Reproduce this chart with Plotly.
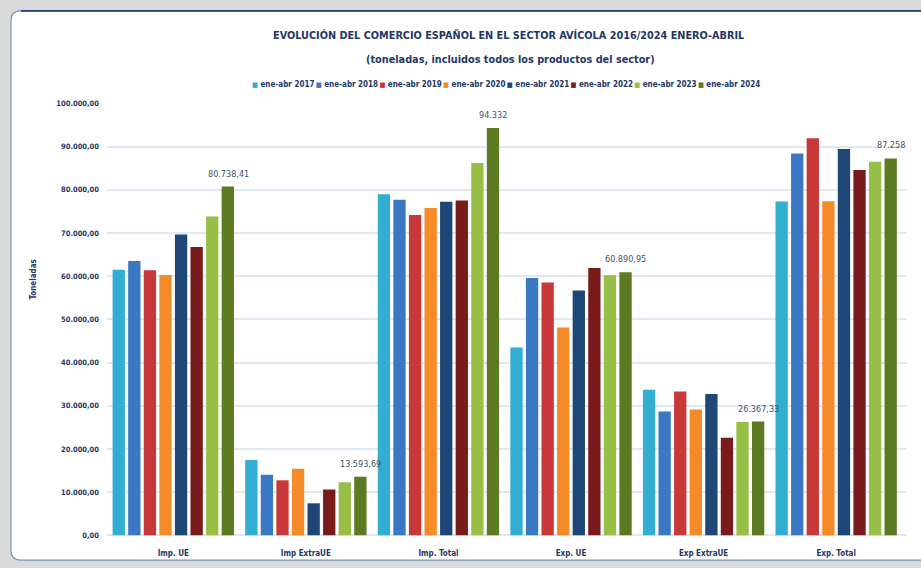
import plotly.graph_objects as go

categories = ["Imp. UE", "Imp ExtraUE", "Imp. Total", "Exp. UE", "Exp ExtraUE", "Exp. Total"]
series_names = ["ene-abr 2017", "ene-abr 2018", "ene-abr 2019", "ene-abr 2020",
                "ene-abr 2021", "ene-abr 2022", "ene-abr 2023", "ene-abr 2024"]

v2017 = [61500, 17470, 78970, 43510, 33710, 77290]
v2018 = [63550, 14050, 77680, 59600, 28700, 88380]
v2019 = [61400, 12760, 74190, 58540, 33330, 91960]
v2020 = [60300, 15420, 75780, 48140, 29160, 77380]
v2021 = [69630, 7440, 77220, 56720, 32720, 89450]
v2022 = [66740, 10630, 77520, 61880, 22630, 84580]
v2023 = [73800, 12300, 86180, 60210, 26270, 86490]
v2024 = [80738.41, 13593.69, 94332, 60890.95, 26367.33, 87258]
labels2024 = ["80.738,41", "13.593,69", "94.332", "60.890,95", "26.367,33", "87.258"]

values = [v2017, v2018, v2019, v2020, v2021, v2022, v2023, v2024]
colors = ["#31aed2", "#3a78c4", "#c93838", "#f58a28", "#1e4676", "#7a1b1b", "#98bf45", "#5b7a22"]

W, H = 921, 568
FONT = "Liberation Sans Narrow, DejaVu Sans Condensed, Roboto, sans-serif"
NAVY = "#1f3864"

x0, x1 = 107, 907
y0, y1 = 540, 101
bargap = 0.06
bargroupgap = 0.21

fig = go.Figure()
for name, vals, col in zip(series_names, values, colors):
    fig.add_trace(go.Bar(
        name=name, x=categories, y=vals, legendgroup=name, showlegend=False,
        marker=dict(color=col, line=dict(width=0)),
        hovertemplate="%{x}<br>%{y:,.2f}<extra>" + name + "</extra>",
    ))
# legend entries: coloured square glyph + label, as in the original chart
for name, col in zip(series_names, colors):
    fig.add_trace(go.Scatter(
        x=[None], y=[None], mode="markers", legendgroup=name, showlegend=True,
        name=f"<span style='color:{col};font-size:7px'>■</span> {name}",
        marker=dict(size=1, opacity=0), hoverinfo="skip",
    ))
# empty spacer entry so the last legend label is not clipped
fig.add_trace(go.Scatter(x=[None], y=[None], mode="markers", name=" ", showlegend=True,
                         marker=dict(size=1, opacity=0), hoverinfo="skip"))

# data labels over last series
cat_px = (x1 - x0) / len(categories)
group_px = cat_px * (1 - bargap)
n = len(series_names)
offset = (-0.5 + (n - 0.5) / n) * group_px
annotations = []
for c, v, t in zip(categories, v2024, labels2024):
    annotations.append(dict(x=c, y=v, xref="x", yref="y", text=t, showarrow=False,
                            xshift=offset, yshift=13, yanchor="middle",
                            font=dict(family=FONT, size=9, color="#44546a")))

annotations.append(dict(x=508 / W, y=1 - 32 / H, xref="paper", yref="paper",
                        text="EVOLUCIÓN DEL COMERCIO ESPAÑOL EN EL SECTOR AVÍCOLA 2016/2024 ENERO-ABRIL",
                        showarrow=False, xanchor="center", yanchor="middle",
                        font=dict(family=FONT, size=10.8, color=NAVY, weight="bold")))
annotations.append(dict(x=510 / W, y=1 - 56 / H, xref="paper", yref="paper",
                        text="(toneladas, incluidos todos los productos del sector)",
                        showarrow=False, xanchor="center", yanchor="middle",
                        font=dict(family=FONT, size=10.8, color=NAVY, weight="bold")))
annotations.append(dict(x=34 / W, y=1 - 280 / H, xref="paper", yref="paper",
                        text="<b>Toneladas</b>", textangle=-90,
                        showarrow=False, xanchor="center", yanchor="middle",
                        font=dict(family=FONT, size=8, color=NAVY)))

# panel (rounded white rectangle)
px0, py0 = 11 / W, 1 - 7 / H
px1, py1 = 1.02, 1 - 565 / H
rx, ry = 10 / W, 10 / H
path = (f"M {px0+rx},{py0} L {px1},{py0} L {px1},{py1} L {px0+rx},{py1} "
        f"Q {px0},{py1} {px0},{py1+ry} L {px0},{py0-ry} Q {px0},{py0} {px0+rx},{py0} Z")
shapes = [
    dict(type="path", path=path, xref="paper", yref="paper", layer="below",
         fillcolor="white", line=dict(color="#7f93b3", width=1.2)),
    dict(type="line", x0=px0 + rx, x1=1.02, y0=py0, y1=py0, xref="paper", yref="paper",
         layer="below", line=dict(color="#23406e", width=1.6)),
]

fig.update_layout(
    width=W, height=H,
    margin=dict(l=0, r=0, t=0, b=0),
    paper_bgcolor="#d9d9d9",
    plot_bgcolor="rgba(0,0,0,0)",
    barmode="group", bargap=bargap, bargroupgap=bargroupgap,
    separators=",.",
    font=dict(family=FONT, color=NAVY),
    showlegend=True,
    legend=dict(orientation="h", x=212 / W, xanchor="left", y=1 - 81 / H, yanchor="middle",
                font=dict(family=FONT, size=8, color=NAVY, weight="bold"),
                bgcolor="rgba(0,0,0,0)", entrywidth=18.7, itemwidth=30,
                traceorder="normal", tracegroupgap=0),
    xaxis=dict(domain=[x0 / W, x1 / W], showgrid=False, showline=False, ticks="",
               tickfont=dict(family=FONT, size=8, color=NAVY, weight="bold"),
               ticklabelstandoff=12),
    yaxis=dict(domain=[1 - y0 / H, 1 - y1 / H], range=[0, 100000], dtick=10000,
               tickformat=",.2f", showgrid=True, gridcolor="#dfe8f3", gridwidth=1.5,
               zeroline=True, zerolinecolor="#dfe8f3", zerolinewidth=1.5,
               showline=False, ticks="", ticklabelstandoff=7,
               tickfont=dict(family=FONT, size=7.5, color=NAVY, weight="bold")),
    annotations=annotations,
    shapes=shapes,
)

fig.write_html("out.html", config={"displayModeBar": False},
               post_script="document.body.style.margin='0px';document.body.style.overflow='hidden';")
